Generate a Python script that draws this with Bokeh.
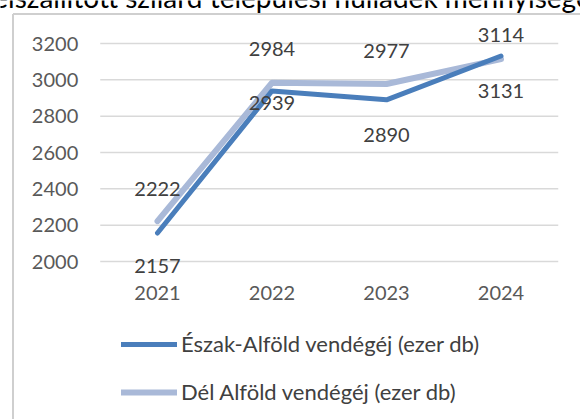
from bokeh.plotting import figure
from bokeh.models import (Range1d, Legend, LegendItem, ColumnDataSource)
from bokeh.core.properties import value
from bokeh.embed import file_html
from bokeh.resources import INLINE

# ---- data ----
years = ["2021", "2022", "2023", "2024"]
eszak_alfold = [2157, 2939, 2890, 3131]
del_alfold = [2222, 2984, 2977, 3114]
y_ticks = [2000, 2200, 2400, 2600, 2800, 3000, 3200]
series_names = ["Észak-Alföld vendégéj (ezer db)", "Dél Alföld vendégéj (ezer db)"]
title_text = "Az elszállított szilárd települési hulladék mennyisége"

# ---- styles ----
FONT = "Lato"
DARK = "#4A7EBB"
LIGHT = "#A9B9D8"
GRID = "#D9D9D9"
del_label_offsets = [-32, -34, -33, -24]   # screen px (negative = up)
eszak_label_offsets = [33, 12, 35, 35]     # screen px (positive = down)

# layout of the full-canvas frame: px per category and per value unit
W, H = 580, 419
PX_X = 114.5
PX_Y = 0.181667
X_START = -1.3712
Y_END = 3436.7
X_END = X_START + W / PX_X
Y_START = Y_END - H / PX_Y

xs = list(range(len(years)))
n = len(years)

p = figure(width=W, height=H,
           x_range=Range1d(X_START, X_END),
           y_range=Range1d(Y_START, Y_END),
           output_backend="svg", toolbar_location=None,
           min_border=0)
p.axis.visible = False
p.grid.visible = False
p.outline_line_color = None
p.background_fill_color = "white"
p.border_fill_color = "white"

# chart-area border: left and top edges (right/bottom lie outside the picture)
bx = X_START + 12.5 / PX_X
by = Y_END - 13.5 / PX_Y
p.segment(x0=[bx, bx], y0=[Y_START, by], x1=[bx, X_END], y1=[by, by],
          line_color="#CFCFCF", line_width=2)

# gridlines across the category bands
p.segment(x0=[-0.5] * len(y_ticks), x1=[n - 0.5] * len(y_ticks),
          y0=y_ticks, y1=y_ticks, line_color=GRID, line_width=1.5)

# y tick labels
p.text(x=[-0.5] * len(y_ticks), y=y_ticks, text=[str(t) for t in y_ticks],
       x_offset=-22, text_align="right", text_baseline="middle",
       text_font=value(FONT), text_font_size="20px", text_color="#595959")
# x tick labels
p.text(x=xs, y=[y_ticks[0]] * n, text=years, y_offset=31,
       text_align="center", text_baseline="middle",
       text_font=value(FONT), text_font_size="20px", text_color="#595959")

src = ColumnDataSource(dict(x=xs, e=eszak_alfold, d=del_alfold,
                            es=[str(v) for v in eszak_alfold],
                            ds=[str(v) for v in del_alfold],
                            eo=eszak_label_offsets, do=del_label_offsets))

r_del = p.line("x", "d", source=src, line_color=LIGHT, line_width=6,
               line_cap="round", line_join="round")
r_esz = p.line("x", "e", source=src, line_color=DARK, line_width=5,
               line_cap="round", line_join="round")

p.text("x", "d", text="ds", source=src, y_offset="do",
       text_align="center", text_baseline="middle",
       text_font=value(FONT), text_font_size="20px", text_color="#404040")
p.text("x", "e", text="es", source=src, y_offset="eo",
       text_align="center", text_baseline="middle",
       text_font=value(FONT), text_font_size="20px", text_color="#404040")

legend = Legend(items=[LegendItem(label=series_names[0], renderers=[r_esz]),
                       LegendItem(label=series_names[1], renderers=[r_del])],
                location=(121, 14), orientation="vertical",
                glyph_width=56, glyph_height=20, label_height=20,
                label_standoff=4, spacing=21, padding=0, margin=0,
                label_text_font=FONT, label_text_font_size="22px",
                label_text_color="#404040",
                border_line_color=None, background_fill_alpha=0)
p.add_layout(legend, "center")

# title, cut at the top edge like the reference
p.text(x=[X_START - 46 / PX_X], y=[Y_END + 4 / PX_Y], text=[title_text],
       text_align="left", text_baseline="alphabetic",
       text_font=value(FONT), text_font_size="28px", text_color="#000000")

open("out.html", "w").write(file_html(p, INLINE))
